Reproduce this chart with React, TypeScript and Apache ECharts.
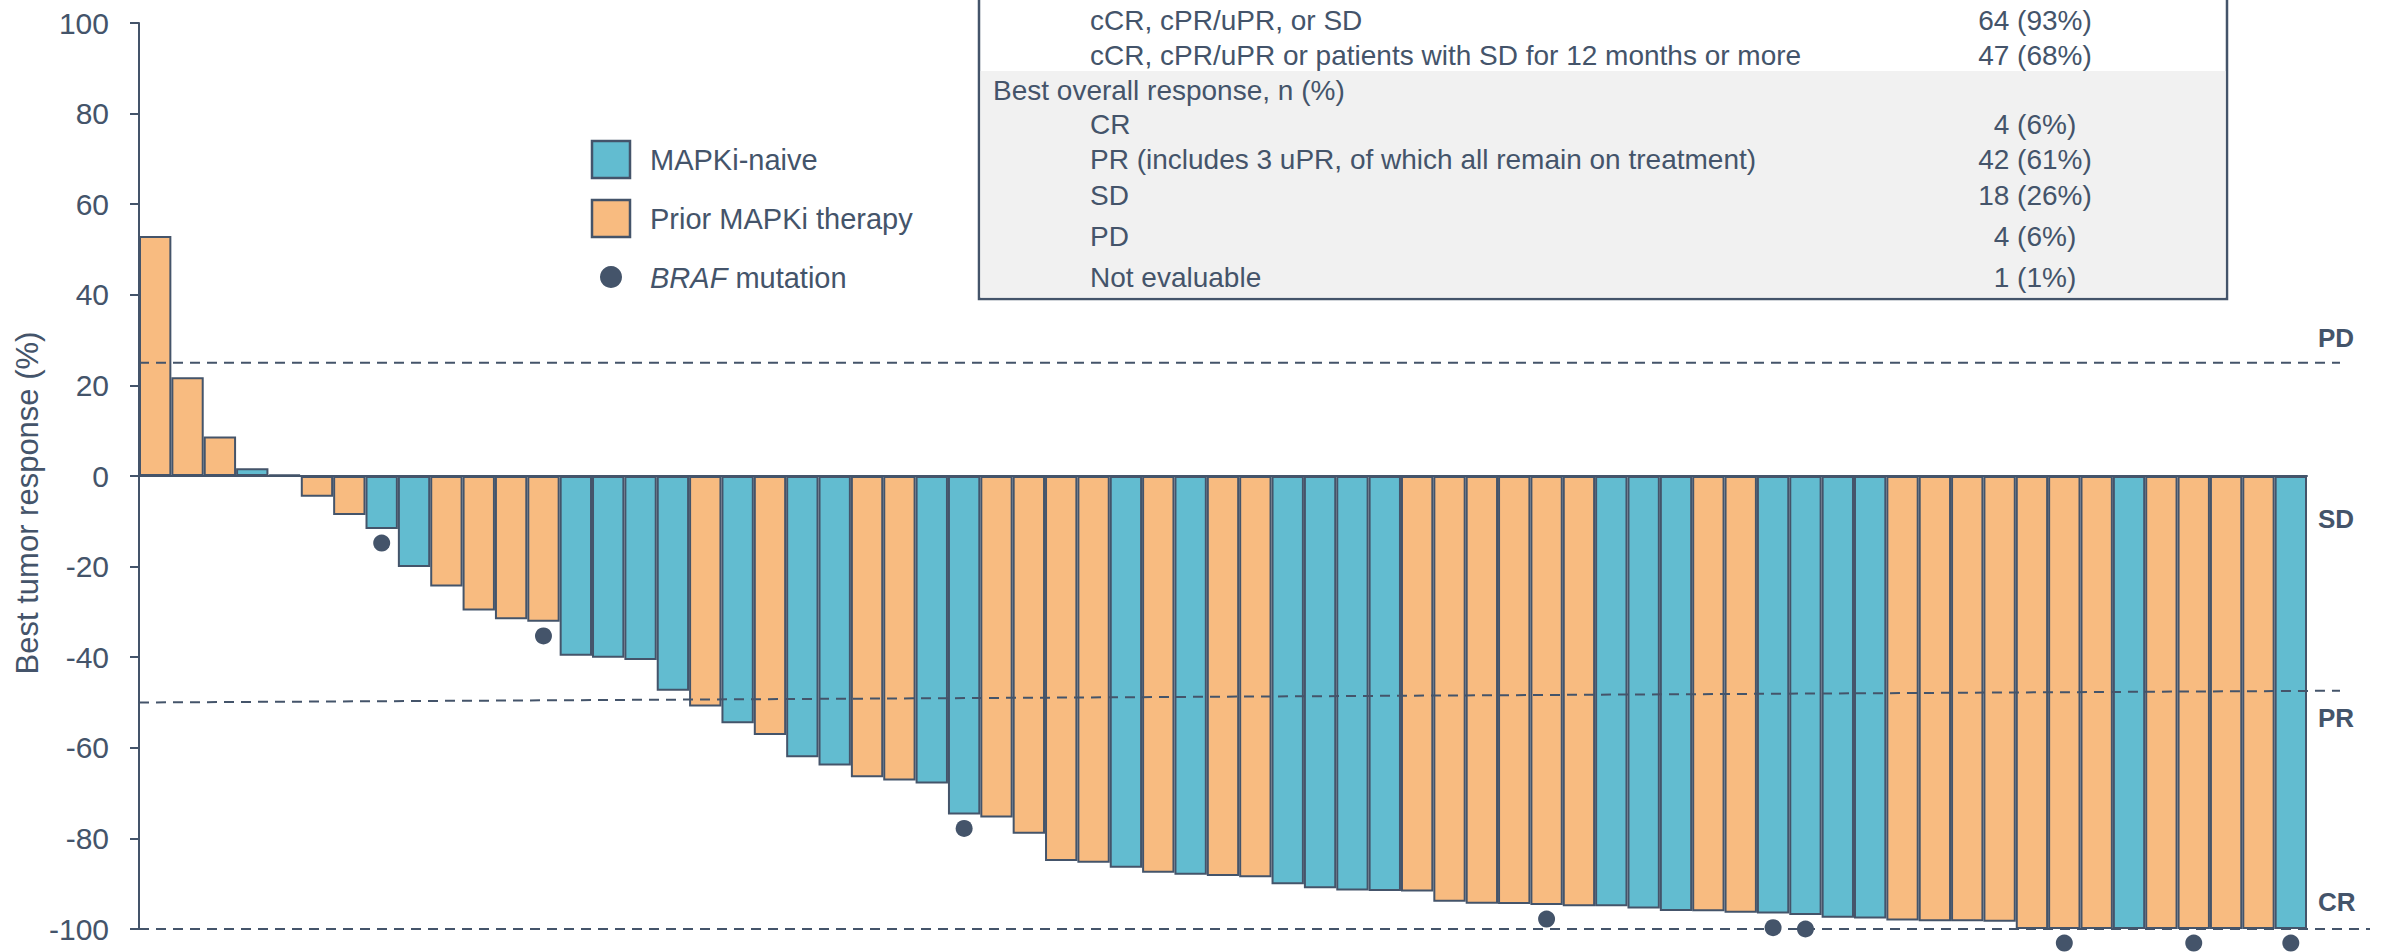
import React, { useEffect, useRef } from "react";
import * as echarts from "echarts";

// Best percentage change in tumour size per patient, sorted as a waterfall
const bestResponse = [
  53, 21.8, 8.7, 1.7, 0.3, -4.6, -8.6, -11.7, -20.1, -24.4,
  -29.7, -31.6, -32.2, -39.7, -40.1, -40.6, -47.4, -50.9, -54.6, -57.2,
  -62.1, -63.9, -66.5, -67.2, -67.9, -74.7, -75.4, -79, -85, -85.4,
  -86.5, -87.6, -88, -88.3, -88.6, -90.1, -91, -91.5, -91.6, -91.7,
  -94, -94.4, -94.5, -94.7, -95, -95, -95.5, -96, -96.1, -96.4,
  -96.6, -96.9, -97.5, -97.7, -98.1, -98.3, -98.3, -98.4, -100, -100,
  -100, -100, -100, -100, -100, -100, -100,
];

// N = MAPKi-naive, P = prior MAPKi therapy
const cohort = [
  "P", "P", "P", "N", "N", "P", "P", "N", "N", "P",
  "P", "P", "P", "N", "N", "N", "N", "P", "N", "P",
  "N", "N", "P", "P", "N", "N", "P", "P", "P", "P",
  "N", "P", "N", "P", "P", "N", "N", "N", "N", "P",
  "P", "P", "P", "P", "P", "N", "N", "N", "P", "P",
  "N", "N", "N", "N", "P", "P", "P", "P", "P", "P",
  "P", "N", "P", "P", "P", "P", "N",
];

const patients = bestResponse.map((_, i) => `Patient ${i + 1}`);

// Patients (1-based position in the waterfall) carrying a BRAF mutation
const brafPatients = [8, 13, 26, 44, 51, 52, 60, 64, 67];

// Response-category thresholds (%)
const pdThreshold = 25;
const prThresholdStart = -50;
const prThresholdEnd = -47.4;
const crThreshold = -100;
const categoryLabels = ["PD", "SD", "PR", "CR"];
const categoryLabelValues = [30.4, -9.4, -53.5, -94];

const legendLabels = ["MAPKi-naive", "Prior MAPKi therapy"];

const tableLabels = [
  "cCR, cPR/uPR, or SD",
  "cCR, cPR/uPR or patients with SD for 12 months or more",
  "Best overall response, n (%)",
  "CR",
  "PR (includes 3 uPR, of which all remain on treatment)",
  "SD",
  "PD",
  "Not evaluable",
];
const tableValues = ["64 (93%)", "47 (68%)", "", "4 (6%)", "42 (61%)", "18 (26%)", "4 (6%)", "1 (1%)"];
const tableIndent = [true, true, false, true, true, true, true, true];

const FONT = '"Liberation Sans", Arial, Helvetica, sans-serif';
const INK = "#44546A";
const BLUE = "#62BCD0";
const ORANGE = "#F8BB80";
const TABLE_GRAY = "#F1F1F1";
const DOT_OFFSET = 3.1;

const textStyle = (
  text: string,
  x: number,
  y: number,
  size: number,
  align: string = "left",
  extra: Record<string, unknown> = {}
) => ({
  type: "text",
  x,
  y,
  z: 120,
  style: {
    text,
    fill: INK,
    fontSize: size,
    fontFamily: FONT,
    align,
    textAlign: align,
    verticalAlign: "middle",
    textVerticalAlign: "middle",
    ...extra,
  },
});

export default function App() {
  const ref = useRef<HTMLDivElement>(null);

  useEffect(() => {
    document.body.style.margin = "0";
    const el = ref.current;
    if (!el) return;
    const chart = echarts.init(el, null, { renderer: "svg" });

    const barData = bestResponse.map((v, i) => ({
      value: v,
      itemStyle: { color: cohort[i] === "N" ? BLUE : ORANGE },
    }));
    const dotData = brafPatients.map((p) => [p - 1, bestResponse[p - 1] - DOT_OFFSET]);

    chart.setOption({
      animation: false,
      grid: { left: 139, right: 75, top: 23, bottom: 23, containLabel: false },
      xAxis: {
        type: "category",
        data: patients,
        axisLine: { show: true, onZero: true, lineStyle: { color: INK, width: 2 } },
        axisTick: { show: false },
        axisLabel: { show: false },
        splitLine: { show: false },
      },
      yAxis: {
        type: "value",
        min: -100,
        max: 100,
        interval: 20,
        axisLine: { show: true, lineStyle: { color: INK, width: 2 } },
        axisTick: { show: true, length: 9, lineStyle: { color: INK, width: 2 } },
        axisLabel: { color: INK, fontSize: 30, fontFamily: FONT, margin: 30 },
        splitLine: { show: false },
      },
      series: [
        {
          type: "bar",
          data: barData,
          barCategoryGap: 0,
          itemStyle: { borderColor: INK, borderWidth: 2 },
          z: 2,
        },
        {
          type: "scatter",
          data: dotData,
          symbol: "circle",
          symbolSize: 17,
          clip: false,
          itemStyle: { color: INK, opacity: 1 },
          z: 5,
        },
      ],
    });

    const yPx = (v: number) => chart.convertToPixel({ yAxisIndex: 0 }, v) as number;
    const dashed = { stroke: INK, lineWidth: 2, lineDash: [10, 7] };

    const graphics: any[] = [];

    // Threshold lines
    graphics.push({
      type: "line",
      z: 100,
      shape: { x1: 139, y1: yPx(pdThreshold), x2: 2340, y2: yPx(pdThreshold) },
      style: dashed,
    });
    graphics.push({
      type: "line",
      z: 100,
      shape: { x1: 139, y1: yPx(prThresholdStart), x2: 2340, y2: yPx(prThresholdEnd) },
      style: dashed,
    });
    graphics.push({
      type: "line",
      z: 100,
      shape: { x1: 139, y1: yPx(crThreshold), x2: 2370, y2: yPx(crThreshold) },
      style: dashed,
    });

    categoryLabels.forEach((lab, i) => {
      graphics.push(textStyle(lab, 2318, yPx(categoryLabelValues[i]), 26, "left", { fontWeight: "bold" }));
    });

    // Axis title
    graphics.push({
      ...textStyle("Best tumor response (%)", 27, 503, 31, "center"),
      rotation: Math.PI / 2,
    });

    // Legend
    [BLUE, ORANGE].forEach((c, i) => {
      graphics.push({
        type: "rect",
        z: 110,
        shape: { x: 592, y: 141 + i * 59, width: 38, height: 37 },
        style: { fill: c, stroke: INK, lineWidth: 2.5 },
      });
      graphics.push(textStyle(legendLabels[i], 650, 160 + i * 59, 29));
    });
    graphics.push({
      type: "circle",
      z: 110,
      shape: { cx: 611, cy: 277, r: 11 },
      style: { fill: INK },
    });
    graphics.push(
      textStyle("{i|BRAF} mutation", 650, 278, 29, "left", {
        rich: {
          i: { fontStyle: "italic", fontSize: 29, fontFamily: FONT, fill: INK, color: INK },
        },
      })
    );

    // Response summary table
    graphics.push({
      type: "rect",
      z: 90,
      shape: { x: 979, y: -20, width: 1248, height: 319 },
      style: { fill: "#FFFFFF", stroke: INK, lineWidth: 2.5 },
    });
    graphics.push({
      type: "rect",
      z: 91,
      shape: { x: 980.5, y: 71, width: 1245, height: 226.5 },
      style: { fill: TABLE_GRAY },
    });
    const rowY = [20, 55, 90, 124, 159, 195, 236, 277];
    tableLabels.forEach((lab, i) => {
      graphics.push(textStyle(lab, tableIndent[i] ? 1090 : 993, rowY[i], 28));
      if (tableValues[i]) graphics.push(textStyle(tableValues[i], 2035, rowY[i], 28, "center"));
    });

    chart.setOption({ graphic: { elements: graphics } });

    return () => chart.dispose();
  }, []);

  return (
    <div
      ref={ref}
      style={{ position: "fixed", left: 0, top: 0, width: 2382, height: 952, background: "#FFFFFF" }}
    />
  );
}
